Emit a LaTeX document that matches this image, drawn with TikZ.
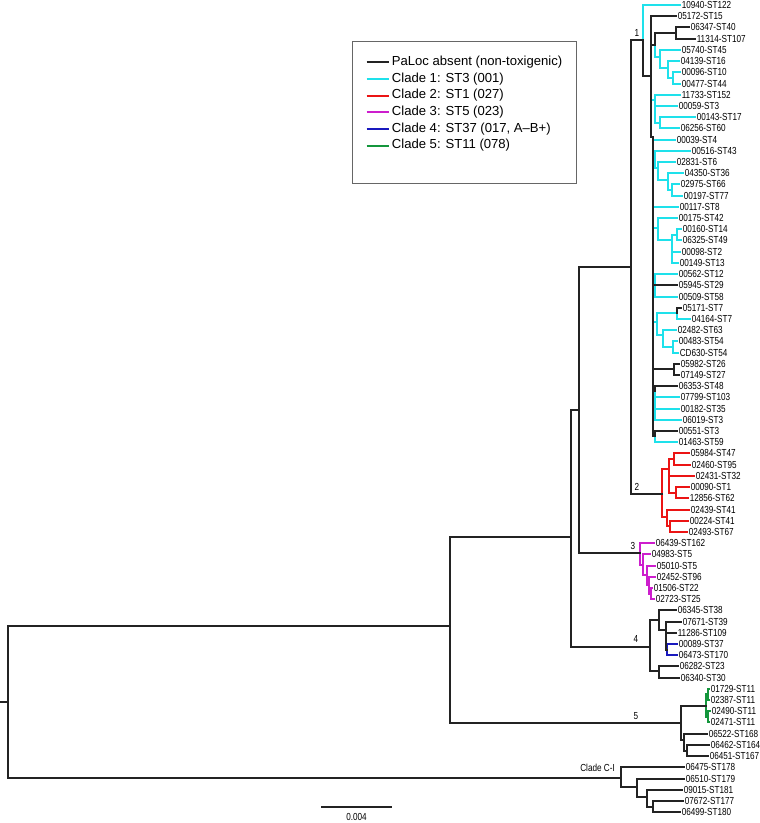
\documentclass[tikz,border=0pt]{standalone}
\usepackage{fontspec}
\setmainfont{Liberation Sans}
\newfontfamily\treefont{Liberation Sans}[FakeStretch=0.8]
\definecolor{tblack}{RGB}{35,35,35}
\definecolor{tcyan}{RGB}{30,225,235}
\definecolor{tred}{RGB}{235,20,20}
\definecolor{tmag}{RGB}{205,30,205}
\definecolor{tblue}{RGB}{25,25,190}
\definecolor{tgreen}{RGB}{20,150,60}
\newcommand\leaf[4]{\coordinate (l#1) at (#2,#3); \node[lab] (t#1) at (l#1) {#4};}
\newcommand\brc[3]{\draw[#1] (#2) |- (#3);}
\newcommand\ipt[3]{\coordinate (#1) at (#2,#3);}
\newcommand\legrow[4]{\coordinate (ka#1) at (366.7,#2); \coordinate (kb#1) at (389.3,#2);
  \draw[legline, draw=#3] (ka#1) -- (kb#1); \node[legtxt] (kt#1) at (391.7,#2) {#4};}
\begin{document}
\begin{tikzpicture}[x=1pt,y=-1pt,
  bk/.style={line width=2pt, draw=tblack, line cap=rect},
  cy/.style={bk, draw=tcyan},
  rd/.style={bk, draw=tred},
  mg/.style={bk, draw=tmag},
  bl/.style={bk, draw=tblue},
  gr/.style={bk, draw=tgreen},
  lab/.style={anchor=west, inner xsep=1.6pt, inner ysep=0pt, font=\treefont\fontsize{10.2}{11}\selectfont, text=black},
  clab/.style={inner sep=0pt, font=\treefont\fontsize{10.2}{11}\selectfont, text=black},
  legtxt/.style={anchor=west, inner sep=0pt, font=\fontsize{13.1}{14}\selectfont, text=black},
  legline/.style={line width=2pt}]
\useasboundingbox (0,0) rectangle (760,823);

% leaves
\leaf{1}{680}{5.0}{10940-ST122}
\leaf{2}{676}{16.2}{05172-ST15}
\leaf{3}{689}{27.4}{06347-ST40}
\leaf{4}{695}{38.6}{11314-ST107}
\leaf{5}{680}{49.8}{05740-ST45}
\leaf{6}{679}{61.1}{04139-ST16}
\leaf{7}{680}{72.3}{00096-ST10}
\leaf{8}{680}{83.5}{00477-ST44}
\leaf{9}{680}{94.7}{11733-ST152}
\leaf{10}{677}{105.9}{00059-ST3}
\leaf{11}{695}{117.1}{00143-ST17}
\leaf{12}{679}{128.3}{06256-ST60}
\leaf{13}{675}{139.5}{00039-ST4}
\leaf{14}{690}{150.7}{00516-ST43}
\leaf{15}{675}{161.9}{02831-ST6}
\leaf{16}{683}{173.2}{04350-ST36}
\leaf{17}{679}{184.4}{02975-ST66}
\leaf{18}{682}{195.6}{00197-ST77}
\leaf{19}{678}{206.8}{00117-ST8}
\leaf{20}{677}{218.0}{00175-ST42}
\leaf{21}{681}{229.2}{00160-ST14}
\leaf{22}{681}{240.4}{06325-ST49}
\leaf{23}{680}{251.6}{00098-ST2}
\leaf{24}{678}{262.8}{00149-ST13}
\leaf{25}{677}{274.0}{00562-ST12}
\leaf{26}{677}{285.3}{05945-ST29}
\leaf{27}{677}{296.5}{00509-ST58}
\leaf{28}{681}{307.7}{05171-ST7}
\leaf{29}{690}{318.9}{04164-ST7}
\leaf{30}{676}{330.1}{02482-ST63}
\leaf{31}{677}{341.3}{00483-ST54}
\leaf{32}{678}{352.5}{CD630-ST54}
\leaf{33}{679}{363.7}{05982-ST26}
\leaf{34}{679}{374.9}{07149-ST27}
\leaf{35}{677}{386.1}{06353-ST48}
\leaf{36}{679}{397.4}{07799-ST103}
\leaf{37}{679}{408.6}{00182-ST35}
\leaf{38}{681}{419.8}{06019-ST3}
\leaf{39}{677}{431.0}{00551-ST3}
\leaf{40}{677}{442.2}{01463-ST59}
\leaf{41}{689}{453.4}{05984-ST47}
\leaf{42}{690}{464.6}{02460-ST95}
\leaf{43}{694}{475.8}{02431-ST32}
\leaf{44}{689}{487.0}{00090-ST1}
\leaf{45}{688}{498.2}{12856-ST62}
\leaf{46}{689}{509.5}{02439-ST41}
\leaf{47}{688}{520.7}{00224-ST41}
\leaf{48}{687}{531.9}{02493-ST67}
\leaf{49}{654}{543.1}{06439-ST162}
\leaf{50}{650}{554.3}{04983-ST5}
\leaf{51}{655}{565.5}{05010-ST5}
\leaf{52}{655}{576.7}{02452-ST96}
\leaf{53}{652}{587.9}{01506-ST22}
\leaf{54}{654}{599.1}{02723-ST25}
\leaf{55}{676}{610.3}{06345-ST38}
\leaf{56}{681}{621.6}{07671-ST39}
\leaf{57}{676}{632.8}{11286-ST109}
\leaf{58}{677}{644.0}{00089-ST37}
\leaf{59}{677}{655.2}{06473-ST170}
\leaf{60}{678}{666.4}{06282-ST23}
\leaf{61}{679}{677.6}{06340-ST30}
\leaf{62}{709}{688.8}{01729-ST11}
\leaf{63}{709}{700.0}{02387-ST11}
\leaf{64}{710}{711.2}{02490-ST11}
\leaf{65}{709}{722.4}{02471-ST11}
\leaf{66}{707}{733.7}{06522-ST168}
\leaf{67}{709}{744.9}{06462-ST164}
\leaf{68}{708}{756.1}{06451-ST167}
\leaf{69}{684}{767.3}{06475-ST178}
\leaf{70}{684}{778.5}{06510-ST179}
\leaf{71}{682}{789.7}{09015-ST181}
\leaf{72}{683}{800.9}{07672-ST177}
\leaf{73}{680}{812.1}{06499-ST180}

% internal nodes
\ipt{rs}{0}{702}\ipt{root}{8}{702}
\ipt{n5}{450}{625.7}\ipt{n14}{571}{537.3}\ipt{n13}{579}{410}\ipt{n12}{631}{266.7}
\ipt{c1}{643}{40}\ipt{c1b}{651}{76}\ipt{c1c}{655}{45}\ipt{K1}{676}{33}
\ipt{G0}{660}{57}\ipt{G0a}{668}{68}\ipt{G0b}{672.7}{77.9}
\ipt{G1}{655}{100}\ipt{G1a}{660}{122.7}
\ipt{c1d}{653.3}{137}\ipt{G2}{655}{158}\ipt{G2a}{658.3}{168}\ipt{G2b}{668.3}{180}\ipt{G2c}{671.7}{190}
\ipt{G3}{658.3}{228}\ipt{G3a}{671.7}{240}\ipt{G3b}{676.7}{234.8}
\ipt{G4}{655}{285.3}\ipt{G5}{656.7}{322}\ipt{K2}{676.7}{312.5}\ipt{G5a}{663.3}{335}\ipt{G5b}{672.7}{347}
\ipt{K3}{674}{369.3}\ipt{G6}{655}{391}\ipt{G7}{655}{436}
\ipt{r0}{661.7}{494.3}\ipt{r1}{669.3}{469.3}\ipt{rA}{674}{459}\ipt{rB}{676}{492.6}\ipt{r2}{667.3}{517.3}\ipt{r2b}{670}{526.3}
\ipt{m1}{640}{553.3}\ipt{m2}{643}{565}\ipt{m3}{646.5}{575}\ipt{m4}{649}{585}\ipt{m5}{650.5}{593.5}
\ipt{c4}{650}{646.7}\ipt{d1}{659.3}{620}\ipt{d2}{666}{630}\ipt{d3}{667}{649.6}\ipt{d5}{659.3}{671}
\ipt{c5}{680.7}{723.3}\ipt{g1}{706}{706}\ipt{g2}{707.5}{694.4}\ipt{g3}{707.5}{716.8}\ipt{f1}{684}{740}\ipt{f2}{687}{750.5}
\ipt{cci}{621}{778}\ipt{ca}{636.7}{787.3}\ipt{cb}{646.7}{796.7}\ipt{cc}{653.3}{806.7}

% coloured branches
\brc{cy}{c1}{l1}
\brc{cy}{c1b}{G1}\brc{cy}{G1}{l9}\brc{cy}{G1}{l10}\brc{cy}{G1}{G1a}\brc{cy}{G1a}{l11}\brc{cy}{G1a}{l12}
\brc{cy}{c1c}{G0}\brc{cy}{G0}{l5}\brc{cy}{G0}{G0a}\brc{cy}{G0a}{l6}\brc{cy}{G0a}{G0b}\brc{cy}{G0b}{l7}\brc{cy}{G0b}{l8}
\brc{cy}{c1d}{l13}\brc{cy}{c1d}{G2}\brc{cy}{G2}{l14}\brc{cy}{G2}{G2a}\brc{cy}{G2a}{l15}\brc{cy}{G2a}{G2b}\brc{cy}{G2b}{l16}\brc{cy}{G2b}{G2c}\brc{cy}{G2c}{l17}\brc{cy}{G2c}{l18}
\brc{cy}{c1d}{l19}\brc{cy}{c1d}{G3}\brc{cy}{G3}{l20}\brc{cy}{G3}{G3a}\brc{cy}{G3a}{G3b}\brc{cy}{G3a}{l23}\brc{cy}{G3a}{l24}\brc{cy}{G3b}{l21}\brc{cy}{G3b}{l22}
\brc{cy}{G4}{l25}\brc{cy}{G4}{l27}
\brc{cy}{c1d}{G5}\brc{cy}{G5}{K2}\brc{cy}{K2}{l29}\brc{cy}{G5}{G5a}\brc{cy}{G5a}{l30}\brc{cy}{G5a}{G5b}\brc{cy}{G5b}{l31}\brc{cy}{G5b}{l32}
\brc{cy}{G6}{l36}\brc{cy}{G6}{l37}\brc{cy}{G6}{l38}
\brc{cy}{G7}{l40}
\brc{rd}{r0}{r1}\brc{rd}{r0}{r2}\brc{rd}{r1}{rA}\brc{rd}{r1}{l43}\brc{rd}{r1}{rB}\brc{rd}{rA}{l41}\brc{rd}{rA}{l42}\brc{rd}{rB}{l44}\brc{rd}{rB}{l45}
\brc{rd}{r2}{l46}\brc{rd}{r2}{r2b}\brc{rd}{r2b}{l47}\brc{rd}{r2b}{l48}
\brc{mg}{m1}{l49}\brc{mg}{m1}{m2}\brc{mg}{m2}{l50}\brc{mg}{m2}{m3}\brc{mg}{m3}{l51}\brc{mg}{m3}{m4}\brc{mg}{m4}{l52}\brc{mg}{m4}{m5}\brc{mg}{m5}{l53}\brc{mg}{m5}{l54}
\brc{bl}{d3}{l58}\brc{bl}{d3}{l59}
\brc{gr}{g1}{g2}\brc{gr}{g1}{g3}\brc{gr}{g2}{l62}\brc{gr}{g2}{l63}\brc{gr}{g3}{l64}\brc{gr}{g3}{l65}

% black branches
\draw[bk] (rs) -- (root);
\brc{bk}{root}{n5}\brc{bk}{root}{cci}
\brc{bk}{n5}{n14}\brc{bk}{n5}{c5}
\brc{bk}{n14}{n13}\brc{bk}{n14}{c4}
\brc{bk}{n13}{n12}\brc{bk}{n13}{m1}
\brc{bk}{n12}{c1}\brc{bk}{n12}{r0}
\brc{bk}{c1}{c1b}
\brc{bk}{c1b}{l2}\brc{bk}{c1b}{c1c}\brc{bk}{c1b}{c1d}
\brc{bk}{c1c}{K1}\brc{bk}{K1}{l3}\brc{bk}{K1}{l4}
\brc{bk}{c1d}{G4}\brc{bk}{G4}{l26}
\brc{bk}{K2}{l28}
\brc{bk}{c1d}{K3}\brc{bk}{K3}{l33}\brc{bk}{K3}{l34}
\brc{bk}{c1d}{G6}\brc{bk}{G6}{l35}
\brc{bk}{c1d}{G7}\brc{bk}{G7}{l39}
\brc{bk}{c4}{d1}\brc{bk}{c4}{d5}\brc{bk}{d1}{l55}\brc{bk}{d1}{d2}
\brc{bk}{d2}{l56}\brc{bk}{d2}{l57}\brc{bk}{d2}{d3}\brc{bk}{d5}{l60}\brc{bk}{d5}{l61}
\brc{bk}{c5}{g1}\brc{bk}{c5}{f1}\brc{bk}{f1}{l66}\brc{bk}{f1}{f2}\brc{bk}{f2}{l67}\brc{bk}{f2}{l68}
\brc{bk}{cci}{l69}\brc{bk}{cci}{ca}\brc{bk}{ca}{l70}\brc{bk}{ca}{cb}\brc{bk}{cb}{l71}\brc{bk}{cb}{cc}\brc{bk}{cc}{l72}\brc{bk}{cc}{l73}

% clade labels
\node[clab] (k1) at (637,33.3) {1};
\node[clab] (k2) at (637,486.7) {2};
\node[clab] (k3) at (633,546) {3};
\node[clab] (k4) at (636,639.3) {4};
\node[clab] (k5) at (636,716) {5};
\node[clab, anchor=east] (kc) at (615,768.3) {Clade C-I};

% scale bar
\coordinate (sb1) at (322,807);
\coordinate (sb2) at (391,807);
\draw[bk] (sb1) -- (sb2);
\node[clab] (sbt) at (356.5,816.5) {0.004};

% legend
\draw[draw=gray!80!black, line width=1pt] (352.7,41.7) rectangle (576.7,183.3);
\legrow{1}{62.3}{tblack}{PaLoc absent (non-toxigenic)}
\legrow{2}{79}{tcyan}{Clade 1: ST3 (001)}
\legrow{3}{95.6}{tred}{Clade 2: ST1 (027)}
\legrow{4}{112.3}{tmag}{Clade 3: ST5 (023)}
\legrow{5}{129}{tblue}{Clade 4: ST37 (017, A–B+)}
\legrow{6}{145.5}{tgreen}{Clade 5: ST11 (078)}
\end{tikzpicture}
\end{document}
